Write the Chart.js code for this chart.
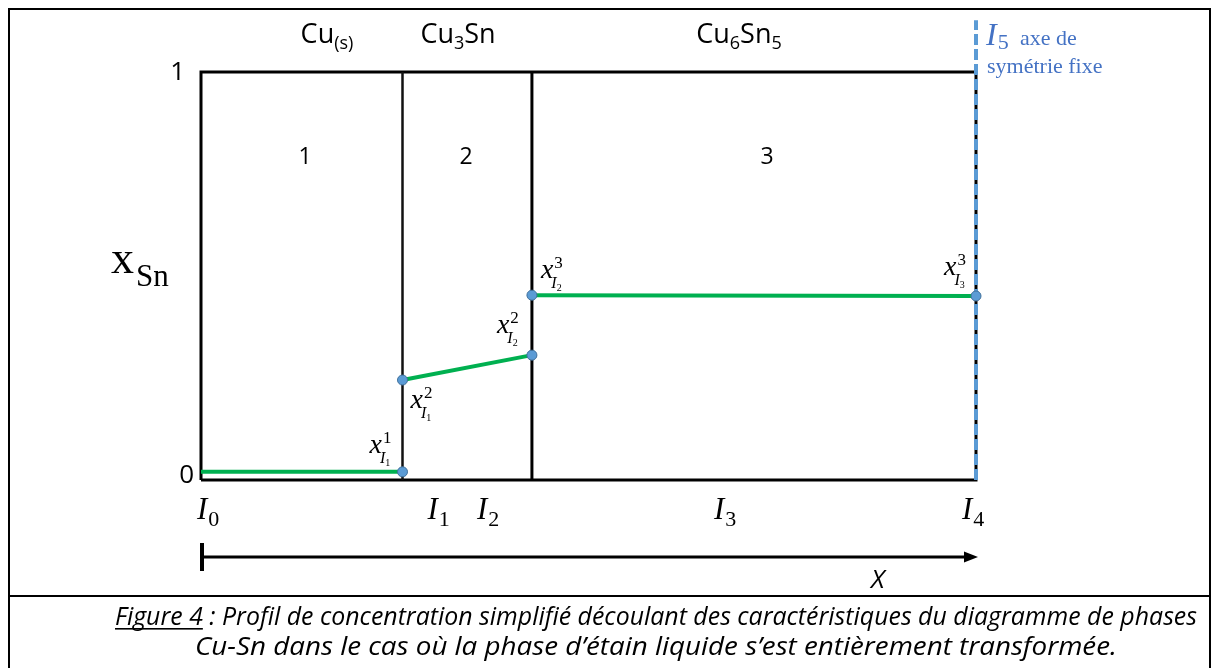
<!DOCTYPE html>
<html>
<head>
<meta charset="utf-8">
<script src="https://cdn.jsdelivr.net/npm/chart.js@4.4.1/dist/chart.umd.min.js"></script>
<style>
    html, body { margin: 0; padding: 0; background: #fff; }
    canvas { display: block; }
</style>
</head>
<body>
<canvas id="profileChart" width="1214" height="668"></canvas>
<script>
// positions of the interfaces along X (I0, I1, I2, I4), normalised 0..1
const interfaces = [0, 0.26, 0.427, 1];
const interfaceLabels = ['0', '1', '2', '3', '4'];
const yTicks = ['0', '1'];
const phaseNames = [['Cu', '(s)', ''], ['Cu', '3', 'Sn'], ['Cu', '6', 'Sn', '5']];
const phaseNumbers = ['1', '2', '3'];

// x_Sn profile, one piece per phase
const phase1X = [0, 0.26];
const phase1Y = [0.02, 0.02];
const phase2X = [0.26, 0.427];
const phase2Y = [0.245, 0.306];
const phase3X = [0.427, 1];
const phase3Y = [0.453, 0.451];

// concentration labels x^phase_{I interface}
const concPhase = ['1', '2', '2', '3', '3'];
const concIface = ['1', '1', '2', '2', '3'];

const symmetryTop = 1.127;

const SERIF = '"Liberation Serif", "DejaVu Serif", serif';
const SANS = '"Open Sans", "Liberation Sans", sans-serif';
const BLUE = '#5B9BD5';

function pts(xs, ys) {
    return xs.map((x, i) => ({ x: x, y: ys[i] }));
}

function drawConc(ctx, left, base, sup, sub) {
    ctx.font = 'italic 28px ' + SERIF;
    ctx.fillText('x', left, base);
    const w = ctx.measureText('x').width;
    ctx.font = '17px ' + SERIF;
    ctx.fillText(sup, left + w + 1, base - 10);
    ctx.font = 'italic 16px ' + SERIF;
    ctx.fillText('I', left + w - 2, base + 10);
    const wi = ctx.measureText('I').width;
    ctx.font = '10px ' + SERIF;
    ctx.fillText(sub, left + w - 2 + wi, base + 13);
}

function drawIface(ctx, left, base, digit) {
    ctx.font = 'italic 31px ' + SERIF;
    ctx.fillText('I', left, base);
    const w = ctx.measureText('I').width;
    ctx.font = '22px ' + SERIF;
    ctx.fillText(digit, left + w + 1, base + 7);
}

// "Cu" + subscript + rest (+ subscript)
function drawPhaseName(ctx, cx, base, parts) {
    const big = '27px ' + SANS, small = '18px ' + SANS;
    let total = 0;
    parts.forEach((p, i) => {
        ctx.font = i % 2 ? small : big;
        total += ctx.measureText(p).width;
    });
    let x = cx - total / 2;
    parts.forEach((p, i) => {
        ctx.font = i % 2 ? small : big;
        ctx.fillText(p, x, base + (i % 2 ? 6 : 0));
        x += ctx.measureText(p).width;
    });
}

function squeezedLine(ctx, left, right, base, pieces) {
    let natural = 0;
    pieces.forEach(p => { ctx.font = p.font; natural += ctx.measureText(p.t).width; });
    const r = (right - left) / natural;
    ctx.save();
    ctx.translate(left, base);
    ctx.scale(r, 1);
    let x = 0;
    pieces.forEach(p => {
        ctx.font = p.font;
        const w = ctx.measureText(p.t).width;
        ctx.fillText(p.t, x, 0);
        if (p.underline) {
            ctx.fillRect(x, 3, w, 1.6);
        }
        x += w;
    });
    ctx.restore();
}

const annotations = {
    id: 'annotations',
    afterDraw(chart) {
        const ctx = chart.ctx;
        const xs = chart.scales.x, ys = chart.scales.y;
        ctx.save();
        ctx.fillStyle = '#000';
        ctx.textBaseline = 'alphabetic';
        ctx.textAlign = 'left';

        // outer box (open at the bottom edge) + caption separator
        ctx.strokeStyle = '#000';
        ctx.lineWidth = 2;
        ctx.beginPath();
        ctx.moveTo(9, 668);
        ctx.lineTo(9, 9);
        ctx.lineTo(1210, 9);
        ctx.lineTo(1210, 668);
        ctx.moveTo(9, 596);
        ctx.lineTo(1210, 596);
        ctx.stroke();

        // y tick labels
        ctx.font = '26px ' + SANS;
        ctx.textAlign = 'right';
        ctx.fillText(yTicks[1], 185, ys.getPixelForValue(1) + 8);
        ctx.fillText(yTicks[0], 194, ys.getPixelForValue(0) + 3);
        ctx.textAlign = 'left';

        // y axis title x_Sn
        ctx.font = '46px ' + SERIF;
        ctx.fillText('x', 111, 273);
        const wx = ctx.measureText('x').width;
        ctx.font = '31px ' + SERIF;
        ctx.fillText('Sn', 111 + wx + 2, 286);

        // phase names on top
        drawPhaseName(ctx, 327, 43, phaseNames[0]);
        drawPhaseName(ctx, 458, 43, phaseNames[1]);
        drawPhaseName(ctx, 739, 43, phaseNames[2]);

        // region numbers
        ctx.font = '23px ' + SANS;
        ctx.textAlign = 'center';
        ctx.fillText(phaseNumbers[0], 305, 164);
        ctx.fillText(phaseNumbers[1], 466, 164);
        ctx.fillText(phaseNumbers[2], 767, 164);
        ctx.textAlign = 'left';

        // concentration labels, anchored on the profile points
        const anchors = [
            [phase1X[1], phase1Y[1], -33, -19],
            [phase2X[0], phase2Y[0], 8, 28],
            [phase2X[1], phase2Y[1], -35, -22],
            [phase3X[0], phase3Y[0], 9, -17],
            [phase3X[1], phase3Y[1], -32, -21]
        ];
        anchors.forEach((a, i) => {
            drawConc(ctx, xs.getPixelForValue(a[0]) + a[2], ys.getPixelForValue(a[1]) + a[3], concPhase[i], concIface[i]);
        });

        // interface labels under the axis
        const base = ys.getPixelForValue(0) + 39;
        drawIface(ctx, xs.getPixelForValue(interfaces[0]) - 4, base, interfaceLabels[0]);
        drawIface(ctx, xs.getPixelForValue(interfaces[1]) + 25, base, interfaceLabels[1]);
        drawIface(ctx, xs.getPixelForValue(interfaces[2]) - 55, base, interfaceLabels[2]);
        drawIface(ctx, (xs.getPixelForValue(interfaces[2]) + xs.getPixelForValue(interfaces[3])) / 2 - 40, base, interfaceLabels[3]);
        drawIface(ctx, xs.getPixelForValue(interfaces[3]) - 14, base, interfaceLabels[4]);

        // X arrow
        const x0 = xs.getPixelForValue(0), x1 = xs.getPixelForValue(1);
        const ay = 557;
        ctx.lineWidth = 3;
        ctx.beginPath();
        ctx.moveTo(x0, ay);
        ctx.lineTo(x1 - 10, ay);
        ctx.stroke();
        ctx.lineWidth = 4;
        ctx.beginPath();
        ctx.moveTo(x0 + 1, 543);
        ctx.lineTo(x0 + 1, 571);
        ctx.stroke();
        ctx.beginPath();
        ctx.moveTo(x1 + 2, ay);
        ctx.lineTo(x1 - 12, ay - 5.5);
        ctx.lineTo(x1 - 12, ay + 5.5);
        ctx.closePath();
        ctx.fill();
        ctx.font = 'italic 26px ' + SANS;
        ctx.fillText('X', 871, 588);

        // symmetry axis label
        ctx.fillStyle = '#4472C4';
        ctx.font = 'italic 32px ' + SERIF;
        ctx.fillText('I', 986, 45);
        const wI = ctx.measureText('I').width;
        ctx.font = '22px ' + SERIF;
        ctx.fillText('5', 986 + wI + 1, 49);
        ctx.fillText('axe de', 1020, 45);
        ctx.fillText('symétrie fixe', 987, 73);

        // caption
        ctx.fillStyle = '#000';
        const cf = 'italic 25px ' + SANS;
        squeezedLine(ctx, 115, 1197, 625, [
            { t: 'Figure 4', font: cf, underline: true },
            { t: ' : Profil de concentration simplifié découlant des caractéristiques du diagramme de phases', font: cf }
        ]);
        squeezedLine(ctx, 195, 1117, 655, [
            { t: 'Cu-Sn dans le cas où la phase d’étain liquide s’est entièrement transformée.', font: cf }
        ]);
        ctx.restore();
    }
};

const frameX = [interfaces[0], interfaces[0], interfaces[3], interfaces[3], interfaces[0]];
const frameY = [0, 1, 1, 0, 0];

const lineBase = { showLine: true, pointRadius: 0, tension: 0, clip: false, fill: false };

new Chart(document.getElementById('profileChart'), {
    type: 'scatter',
    data: {
        datasets: [
            Object.assign({}, lineBase, {
                label: 'frame', data: pts(frameX, frameY), borderColor: '#000', borderWidth: 3,
                borderJoinStyle: 'miter', order: 10
            }),
            Object.assign({}, lineBase, {
                label: 'I1', data: pts([interfaces[1], interfaces[1]], [0, 1]), borderColor: '#111', borderWidth: 2.5, order: 9
            }),
            Object.assign({}, lineBase, {
                label: 'I2', data: pts([interfaces[2], interfaces[2]], [0, 1]), borderColor: '#000', borderWidth: 3, order: 9
            }),
            Object.assign({}, lineBase, {
                label: 'I5', data: pts([interfaces[3], interfaces[3]], [0, symmetryTop]), borderColor: BLUE,
                borderWidth: 4, borderDash: [11, 4], order: 8
            }),
            Object.assign({}, lineBase, {
                label: 'phase 1', data: pts(phase1X, phase1Y), borderColor: '#00B050', borderWidth: 4,
                pointRadius: [0, 5], pointBackgroundColor: BLUE, pointBorderColor: '#41719C', pointBorderWidth: 1, order: 1
            }),
            Object.assign({}, lineBase, {
                label: 'phase 2', data: pts(phase2X, phase2Y), borderColor: '#00B050', borderWidth: 4,
                pointRadius: 5, pointBackgroundColor: BLUE, pointBorderColor: '#41719C', pointBorderWidth: 1, order: 1
            }),
            Object.assign({}, lineBase, {
                label: 'phase 3', data: pts(phase3X, phase3Y), borderColor: '#00B050', borderWidth: 4,
                pointRadius: 5, pointBackgroundColor: BLUE, pointBorderColor: '#41719C', pointBorderWidth: 1, order: 1
            })
        ]
    },
    options: {
        responsive: false,
        animation: false,
        layout: { padding: { left: 201, right: 238, top: 72, bottom: 188 } },
        plugins: { legend: { display: false }, tooltip: { enabled: false } },
        scales: {
            x: { type: 'linear', min: 0, max: 1, display: false },
            y: { type: 'linear', min: 0, max: 1, display: false }
        }
    },
    plugins: [annotations]
});
</script>
</body>
</html>
